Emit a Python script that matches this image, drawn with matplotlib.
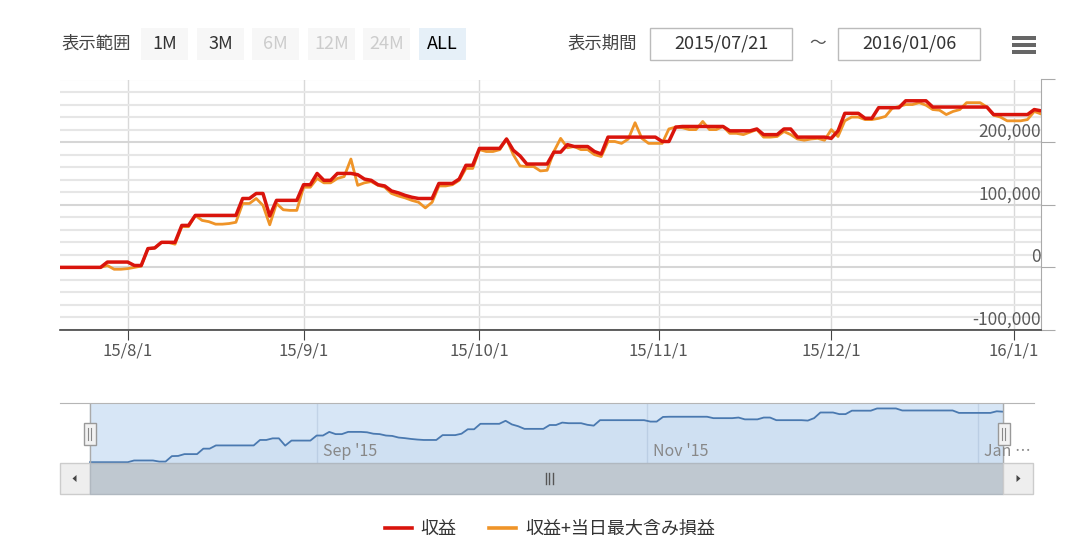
import numpy as np
import pandas as pd
import matplotlib
matplotlib.use('Agg')
import matplotlib.pyplot as plt
import matplotlib.transforms as mtransforms
from matplotlib.patches import Rectangle, Polygon
from matplotlib.lines import Line2D

plt.rcParams['font.family'] = ['Noto Sans CJK JP', 'DejaVu Sans']

# trading days (Mon-Sat) from 2015/07/21 to 2016/01/06
dates = pd.bdate_range('2015-07-21', '2016-01-06', freq='C',
                       weekmask='Mon Tue Wed Thu Fri Sat')

# 収益 (thousand yen)
profit_k = [
    0, 0, 0, 0, 0, 0, 0, 8.5, 8.5, 8.5,
    8.5, 3, 3, 30, 31, 40, 40, 40, 67, 67,
    83, 83, 83, 83, 83, 83, 83, 110, 110, 118,
    118, 82, 107, 107, 107, 107, 132, 132, 150, 139,
    139, 150, 150, 150, 148, 141, 139, 132, 130, 122,
    119, 115, 112, 110, 110, 110, 134, 134, 134, 141,
    163, 163, 190, 190, 190, 190, 205, 187, 178, 165,
    165, 165, 165, 184, 184, 196, 193, 193, 193, 185,
    181, 208, 208, 208, 208, 208, 208, 208, 208, 201,
    201, 224, 225, 225, 225, 225, 225, 225, 225, 218,
    218, 218, 218, 221, 212, 212, 212, 221, 221, 208,
    208, 208, 208, 208, 206, 218, 246, 246, 246, 238,
    238, 255, 255, 255, 255, 266, 266, 266, 266, 256,
    256, 256, 256, 256, 256, 256, 256, 256, 244, 244,
    244, 244, 244, 244, 252, 250,
]

# 収益+当日最大含み損益 (thousand yen)
floating_k = [
    0, 0, 0, 0, 0, 0, 0, 3, -3, -3,
    -2, 0, 2, 30, 31, 40, 40, 37, 65, 65,
    83, 75, 73, 69, 69, 70, 72, 102, 102, 110,
    99, 68, 102, 92, 91, 91, 128, 128, 142, 135,
    135, 142, 145, 173, 131, 135, 137, 131, 128, 118,
    114, 111, 107, 104, 95, 104, 130, 130, 132, 139,
    158, 158, 188, 185, 185, 188, 205, 180, 162, 161,
    161, 154, 155, 185, 206, 191, 193, 188, 188, 180,
    177, 201, 201, 198, 205, 231, 206, 198, 198, 198,
    221, 224, 223, 220, 220, 233, 220, 220, 225, 214,
    214, 212, 216, 220, 208, 208, 209, 217, 212, 205,
    203, 205, 206, 203, 220, 209, 234, 240, 240, 236,
    236, 238, 241, 254, 257, 260, 260, 263, 259, 252,
    251, 244, 249, 252, 263, 263, 263, 256, 243, 240,
    234, 234, 234, 236, 249, 245,
]

profit = np.array(profit_k) * 1000
floating = np.array(floating_k) * 1000

y_major = [-100000, 0, 100000, 200000, 300000]
y_minor = list(range(-100000, 300001, 20000))
month_starts = pd.date_range('2015-08-01', '2016-01-01', freq='MS')
nav_months = ['2015-09-01', '2015-11-01', '2016-01-01']
nav_labels = ["Sep '15", "Nov '15", "Jan …"]
range_buttons = ['1M', '3M', '6M', '12M', '24M', 'ALL']
period_from, period_to = '2015/07/21', '2016/01/06'
series_names = ['収益', '収益+当日最大含み損益']

RED = '#d9140c'
ORANGE = '#ef9428'
W, H = 1080, 547


def fbox(x0, y0, x1, y1):
    return [x0 / W, 1 - y1 / H, (x1 - x0) / W, (y1 - y0) / H]


def ordinal_pos(d):
    # position of a calendar date on the ordinal (trading-day) axis
    d = pd.Timestamp(d)
    i = dates.searchsorted(d)
    return i if dates[i] == d else i - 0.5


x = np.arange(len(dates))
fig = plt.figure(figsize=(10.8, 5.47), dpi=100)

# ---- main chart
ax = fig.add_axes(fbox(60, 79.5, 1041, 330))
ax.plot(x, floating, color=ORANGE, lw=2.0, zorder=3, solid_joinstyle='round')
ax.plot(x, profit, color=RED, lw=2.5, zorder=4, solid_joinstyle='round')
ax.set_xlim(0, len(dates) - 1)
ax.set_ylim(-100000, 300000)
ax.set_axisbelow(True)

for v in y_minor:
    ax.axhline(v, color='#d6d6d6' if v in y_major else '#e6e6e6', lw=1.5, zorder=1)

xt = [ordinal_pos(m) for m in month_starts]
ax.set_xticks(xt)
ax.set_xticklabels([f'{m.year % 100}/{m.month}/1' for m in month_starts])
ax.grid(axis='x', color='#d9d9d9', lw=1)
ax.tick_params(axis='x', direction='out', length=7, color='#444444',
               labelsize=12, labelcolor='#555555', pad=2)

ax.yaxis.tick_right()
ax.set_yticks(y_major)
ax.tick_params(axis='y', direction='out', length=10, color='#aaaaaa',
               labelright=False, labelleft=False)
off = mtransforms.offset_copy(ax.get_yaxis_transform(), fig=fig, x=0, y=1, units='dots')
for v in y_major[:-1]:
    ax.text(1, v, f'{v:,}', transform=off, ha='right', va='bottom',
            fontsize=12.5, color='#5a5a5a', zorder=5)

for s in ['left', 'top']:
    ax.spines[s].set_visible(False)
ax.spines['bottom'].set_color('#444444')
ax.spines['bottom'].set_linewidth(1.2)
ax.spines['right'].set_color('#aaaaaa')

# ---- navigator
nav = fig.add_axes(fbox(60, 403, 1034, 463))
s = (1003 - 90) / (len(dates) - 1)
nav.set_xlim(-(90 - 60) / s, len(dates) - 1 + (1034 - 1003) / s)
nav.set_ylim(-4000, 293000)
nav.axvspan(0, len(dates) - 1, color='#d7e6f6', zorder=0)
nav.fill_between(x, profit, -4000, color='#4a79b0', alpha=0.05, lw=0, zorder=1)
nav.plot(x, profit, color='#4a79b0', lw=1.3, zorder=2)
npos = [ordinal_pos(d) for d in nav_months]
for p, lab in zip(npos, nav_labels):
    nav.axvline(p, color='#c2d3e7', lw=1, zorder=0.5)
    t = mtransforms.offset_copy(nav.get_xaxis_transform(), fig=fig, x=6, units='dots')
    nav.text(p, 0.2, lab, transform=t, ha='left', va='center', fontsize=11.5, color='#888888')
nav.axvline(0, color='#aaaaaa', lw=1)
nav.axvline(len(dates) - 1, color='#aaaaaa', lw=1)
nav.set_xticks([])
nav.set_yticks([])
for sp in ['left', 'right', 'bottom']:
    nav.spines[sp].set_visible(False)
nav.spines['top'].set_color('#b5b5b5')

# ---- overlay for toolbar, scrollbar, handles
ov = fig.add_axes([0, 0, 1, 1], zorder=10)
ov.set_xlim(0, W)
ov.set_ylim(H, 0)
ov.axis('off')
ov.patch.set_visible(False)

ov.text(62, 44, '表示範囲', fontsize=12.5, color='#444444', va='center', ha='left')
bx = [141, 197, 252, 308, 363, 419]
for lab, x0 in zip(range_buttons, bx):
    disabled = lab in ('6M', '12M', '24M')
    fc = '#e6f0f8' if lab == 'ALL' else '#f7f7f7'
    ov.add_patch(Rectangle((x0, 28), 47, 32, fc=fc, ec='none'))
    ov.text(x0 + 23.5, 44, lab, fontsize=13, ha='center', va='center',
            color='#cccccc' if disabled else ('#000000' if lab == 'ALL' else '#333333'))

ov.text(568, 44, '表示期間', fontsize=12.5, color='#444444', va='center', ha='left')
for x0, txt in [(650, period_from), (838, period_to)]:
    ov.add_patch(Rectangle((x0, 28), 142, 32, fc='white', ec='#bbbbbb', lw=1))
    ov.text(x0 + 71, 44, txt, fontsize=13, ha='center', va='center', color='#333333')
ov.text(818, 43, '〜', fontsize=12, ha='center', va='center', color='#555555')
for yy in (38, 45, 52):
    ov.add_patch(Rectangle((1012, yy - 2), 24, 4.2, fc='#666666', ec='none'))

# scrollbar
ov.add_patch(Rectangle((60, 463), 30, 31, fc='#eeeeee', ec='#cccccc', lw=1))
ov.add_patch(Rectangle((90, 463), 913, 31, fc='#bfc8d0', ec='#b0b8c0', lw=1))
ov.add_patch(Rectangle((1003, 463), 30, 31, fc='#eeeeee', ec='#cccccc', lw=1))
ov.add_patch(Polygon([[72.5, 478.5], [76.5, 475], [76.5, 482]], fc='#444444', ec='none'))
ov.add_patch(Polygon([[1020.5, 478.5], [1016.5, 475], [1016.5, 482]], fc='#444444', ec='none'))
for xx in (545.5, 549, 552.5):
    ov.plot([xx, xx], [473, 484], color='#555555', lw=1)

# navigator handles
for cx in (89.5, 1003.5):
    ov.add_patch(Rectangle((cx - 6, 423), 12, 22, fc='#f2f2f2', ec='#999999', lw=1))
    for dx in (-1.5, 1.5):
        ov.plot([cx + dx, cx + dx], [428, 440], color='#888888', lw=0.8)

# legend
handles = [Line2D([], [], color=RED, lw=2.6), Line2D([], [], color=ORANGE, lw=2.6)]
fig.legend(handles, series_names, loc='center', bbox_to_anchor=(550 / W, 1 - 529 / H),
           ncol=2, frameon=False, fontsize=13, handlelength=1.5, handletextpad=0.5,
           columnspacing=1.8, labelcolor='#333333')

fig.savefig('out.png', dpi=100, facecolor='white')
